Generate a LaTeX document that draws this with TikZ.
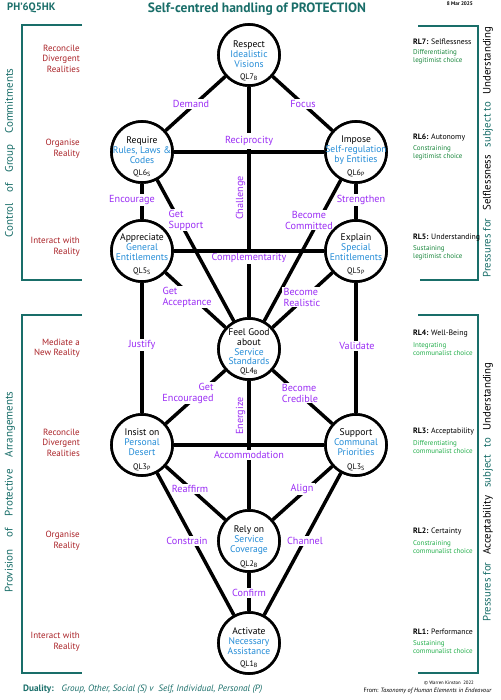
\documentclass[tikz,border=0pt]{standalone}
\usepackage{fontspec}
\setmainfont{PT Sans}
\usetikzlibrary{calc}
\definecolor{teal1}{RGB}{25,110,105}
\definecolor{lblue}{RGB}{35,140,215}
\definecolor{lpurp}{RGB}{155,45,245}
\definecolor{lred}{RGB}{170,35,40}
\definecolor{dgreen}{RGB}{25,135,60}
\definecolor{lgreen}{RGB}{35,175,75}
\begin{document}
\begin{tikzpicture}[x=1pt,y=-1pt,
  qc/.style={circle,draw=black,line width=2.6pt,fill=white,minimum size=61pt,inner sep=0pt},
  qtext/.style={align=center,font=\fontsize{9.6}{10}\selectfont,inner sep=0pt},
  qlab/.style={font=\fontsize{8}{9}\selectfont,inner sep=0pt},
  link/.style={line width=3.5pt},
  elab/.style={fill=white,text=lpurp,font=\fontsize{10.2}{11}\selectfont,inner sep=1.2pt,align=center},
  vlab/.style={text=lpurp,font=\fontsize{10.2}{11}\selectfont,inner sep=0pt,rotate=90},
  bracket/.style={draw=teal1,line width=2.2pt},
  redlab/.style={anchor=east,align=right,text=lred,font=\fontsize{9}{10.5}\selectfont,inner sep=0pt},
  rltitle/.style={anchor=west,font=\fontsize{7.8}{8}\selectfont,inner sep=0pt},
  rlsub/.style={anchor=west,align=left,font=\fontsize{7}{7.8}\selectfont,inner sep=0pt},
  sidetext/.style={rotate=90,text=teal1,font=\fontsize{11}{12}\selectfont,inner sep=0pt},
  sidetextr/.style={rotate=90,text=teal1,font=\fontsize{10.8}{12}\selectfont,inner sep=0pt}
]
\useasboundingbox (0,0) rectangle (500,700);
\fill[white] (0,0) rectangle (500,700);

% circle nodes
\node[qc] (q7) at (249,55) {};
\node[qc] (q6s) at (142,152) {};
\node[qc] (q6p) at (356,152) {};
\node[qc] (q5s) at (142,251) {};
\node[qc] (q5p) at (356,251) {};
\node[qc] (q4) at (249,349) {};
\node[qc] (q3p) at (142,445) {};
\node[qc] (q3s) at (356,445) {};
\node[qc] (q2) at (249,541) {};
\node[qc] (q1) at (249,643) {};

% links that are interrupted by labels
\draw[link] (q7) -- (q6s);
\draw[link] (q7) -- (q6p);
\draw[link] (q7) -- (q4);
\draw[link] (q6s) -- (q5s);
\draw[link] (q6p) -- (q5p);
\draw[link] (q6s) -- (q4);
\draw[link] (q6p) -- (q4);
\draw[link] (q5s) -- (q4);
\draw[link] (q5p) -- (q4);
\draw[link] (q5s) -- (q3p);
\draw[link] (q5p) -- (q3s);
\draw[link] (q4) -- (q3p);
\draw[link] (q4) -- (q3s);
\draw[link] (q4) -- (q2);
\draw[link] (q3p) -- (q2);
\draw[link] (q3s) -- (q2);
\draw[link] (q3p) -- (q1);
\draw[link] (q3s) -- (q1);
\draw[link] (q2) -- (q1);

% link labels
\node[elab] (demand) at (191,104) {Demand};
\node[elab] (focus) at (303,104) {Focus};
\node[elab,inner ysep=3pt] (recip) at (249,141) {Reciprocity};
\node[vlab] (challenge) at (240.5,198) {Challenge};
\node[elab] (encourage) at (132,200) {Encourage};
\node[elab] (strengthen) at (361,200) {Strengthen};
\node[elab,align=left] (getsupport) at (186,220) {Get\\Support};
\node[elab] (becomecom) at (309,220) {Become\\Committed};
\node[elab] (complement) at (249,258) {Complementarity};
\node[elab,align=left] (getaccept) at (187,297) {Get\\Acceptance};
\node[elab,align=left] (becomereal) at (302,297) {Become\\Realistic};
\node[elab] (justify) at (142,345) {Justify};
\node[elab] (validate) at (357,346) {Validate};
\node[elab,align=right] (getenc) at (188,393) {Get\\Encouraged};
\node[elab,align=left] (becomecred) at (300,393) {Become\\Credible};
\node[vlab] (energize) at (240.5,416) {Energize};
\node[elab] (accommodation) at (249,455) {Accommodation};
\node[elab] (reaffirm) at (190,489) {Reaffirm};
\node[elab] (alignlab) at (302,489) {Align};
\node[elab] (constrain) at (187,541) {Constrain};
\node[elab] (channel) at (305,541) {Channel};
\node[elab] (confirm) at (249,593) {Confirm};

% horizontal links (uninterrupted)
\draw[link] (q6s) -- (q6p);
\draw[link] (q5s) -- (q5p);
\draw[link] (q3p) -- (q3s);

% redraw circles on top
\foreach \n in {q7,q6s,q6p,q5s,q5p,q4,q3p,q3s,q2,q1}{
  \draw[line width=2.6pt,fill=white] (\n.center) circle (30.5pt);
}

% circle texts
\node[qtext] (t7) at ($(q7)+(0,-1)$) {Respect\\\textcolor{lblue}{Idealistic}\\\textcolor{lblue}{Visions}};
\node[qlab] (l7) at ($(q7)+(0,22)$) {QL7\textsubscript{B}};
\node[qtext] (t6s) at ($(q6s)+(0,-2)$) {Require\\\textcolor{lblue}{Rules, Laws \&}\\\textcolor{lblue}{Codes}};
\node[qlab] (l6s) at ($(q6s)+(0,21)$) {QL6\textsubscript{S}};
\node[qtext] (t6p) at ($(q6p)+(0,-2)$) {Impose\\\textcolor{lblue}{Self-regulation}\\\textcolor{lblue}{by Entities}};
\node[qlab] (l6p) at ($(q6p)+(0,21)$) {QL6\textsubscript{P}};
\node[qtext] (t5s) at ($(q5s)+(0,-4)$) {Appreciate\\\textcolor{lblue}{General}\\\textcolor{lblue}{Entitlements}};
\node[qlab] (l5s) at ($(q5s)+(0,20)$) {QL5\textsubscript{S}};
\node[qtext] (t5p) at ($(q5p)+(0,-4)$) {Explain\\\textcolor{lblue}{Special}\\\textcolor{lblue}{Entitlements}};
\node[qlab] (l5p) at ($(q5p)+(0,20)$) {QL5\textsubscript{P}};
\node[qtext,font=\fontsize{9.6}{9.7}\selectfont] (t4) at ($(q4)+(0,-2)$) {Feel Good\\about\\\textcolor{lblue}{Service}\\\textcolor{lblue}{Standards}};
\node[qlab] (l4) at ($(q4)+(0,22)$) {QL4\textsubscript{B}};
\node[qtext] (t3p) at ($(q3p)+(0,-3)$) {Insist on\\\textcolor{lblue}{Personal}\\\textcolor{lblue}{Desert}};
\node[qlab] (l3p) at ($(q3p)+(0,22)$) {QL3\textsubscript{P}};
\node[qtext] (t3s) at ($(q3s)+(0,-3)$) {Support\\\textcolor{lblue}{Communal}\\\textcolor{lblue}{Priorities}};
\node[qlab] (l3s) at ($(q3s)+(0,22)$) {QL3\textsubscript{S}};
\node[qtext] (t2) at ($(q2)+(0,-1)$) {Rely on\\\textcolor{lblue}{Service}\\\textcolor{lblue}{Coverage}};
\node[qlab] (l2) at ($(q2)+(0,23)$) {QL2\textsubscript{B}};
\node[qtext] (t1) at ($(q1)+(0,-2)$) {Activate\\\textcolor{lblue}{Necessary}\\\textcolor{lblue}{Assistance}};
\node[qlab] (l1) at ($(q1)+(0,21)$) {QL1\textsubscript{B}};

% header
\node[anchor=west,inner sep=0pt,text=teal1,font=\bfseries\fontsize{10.7}{12}\selectfont] (ph) at (7,8) {PH’6Q5HK};
\node[inner sep=0pt,text=teal1,font=\bfseries\fontsize{13.5}{15}\selectfont] (title) at (257,9) {Self-centred handling of PROTECTION};
\node[anchor=east,inner sep=0pt,font=\bfseries\fontsize{5.2}{6}\selectfont] (date) at (473,4) {8 Mar 2025};

% brackets
\draw[bracket] (82,25) -- (22,25) -- (22,280) -- (82,280);
\draw[bracket] (82,315) -- (22,315) -- (22,673) -- (82,673);
\draw[bracket] (418,26) -- (478,26) -- (478,280) -- (420,280);
\draw[bracket] (418,315) -- (478,315) -- (478,673) -- (418,673);

% side texts
\node[sidetext] (ctl) at (10,153) {\makebox[169pt][s]{Control\hfill of\hfill Group\hfill Commitments}};
\node[sidetext] (prov) at (10,492) {\makebox[201pt][s]{Provision\hfill of\hfill Protective\hfill Arrangements}};
\node[sidetextr] (pself) at (488,152) {\makebox[251pt][s]{Pressures for\hfill\textcolor{black}{Selflessness}\hfill subject to\hfill\textcolor{black}{Understanding}}};
\node[sidetextr] (pacc) at (488,492) {\makebox[259pt][s]{Pressures for\hfill\textcolor{black}{Acceptability}\hfill subject\hfill to\hfill\textcolor{black}{Understanding}}};

% left labels
\node[redlab] (r1) at (80,58.5) {Reconcile\\Divergent\\Realities};
\node[redlab] (r2) at (80,148.5) {Organise\\Reality};
\node[redlab] (r3) at (80,246.5) {Interact with\\Reality};
\node[redlab] (r4) at (80,348) {Mediate a\\New Reality};
\node[redlab] (r5) at (80,442.5) {Reconcile\\Divergent\\Realities};
\node[redlab] (r6) at (80,540.5) {Organise\\Reality};
\node[redlab] (r7) at (80,641.5) {Interact with\\Reality};

% right labels
\node[rltitle] (rl7) at (413,42) {\textbf{RL7:} Selflessness};
\node[rlsub,text=dgreen] (rl7s) at (413,57) {Differentiating\\legitimist choice};
\node[rltitle] (rl6) at (413,138) {\textbf{RL6:} Autonomy};
\node[rlsub,text=dgreen] (rl6s) at (413,153) {Constraining\\legitimist choice};
\node[rltitle] (rl5) at (413,238) {\textbf{RL5:} Understanding};
\node[rlsub,text=dgreen] (rl5s) at (413,253) {Sustaining\\legitimist choice};
\node[rltitle] (rl4) at (413,334) {\textbf{RL4:} Well-Being};
\node[rlsub,text=lgreen] (rl4s) at (413,349) {Integrating\\communalist choice};
\node[rltitle] (rl3) at (413,432) {\textbf{RL3:} Acceptability};
\node[rlsub,text=lgreen] (rl3s) at (413,447) {Differentiating\\communalist choice};
\node[rltitle] (rl2) at (413,532) {\textbf{RL2:} Certainty};
\node[rlsub,text=lgreen] (rl2s) at (413,547) {Constraining\\communalist choice};
\node[rltitle] (rl1) at (413,632) {\textbf{RL1:} Performance};
\node[rlsub,text=lgreen] (rl1s) at (413,647) {Sustaining\\communalist choice};

% footer
\node[anchor=west,inner sep=0pt,text=teal1,font=\fontsize{9.2}{10}\selectfont] (dual) at (23,689) {\textbf{Duality:}\hspace{8pt}\textit{Group, Other, Social (S) v\ \ Self, Individual, Personal (P)}};
\node[anchor=east,inner sep=0pt,font=\fontsize{4.8}{6}\selectfont] (copy) at (474,683) {© Warren Kinston\ \ 2022};
\node[anchor=east,inner sep=0pt,font=\fontsize{6.2}{7}\selectfont] (from) at (492,691) {From: \textit{Taxonomy of Human Elements in Endeavour}};
\end{tikzpicture}
\end{document}
